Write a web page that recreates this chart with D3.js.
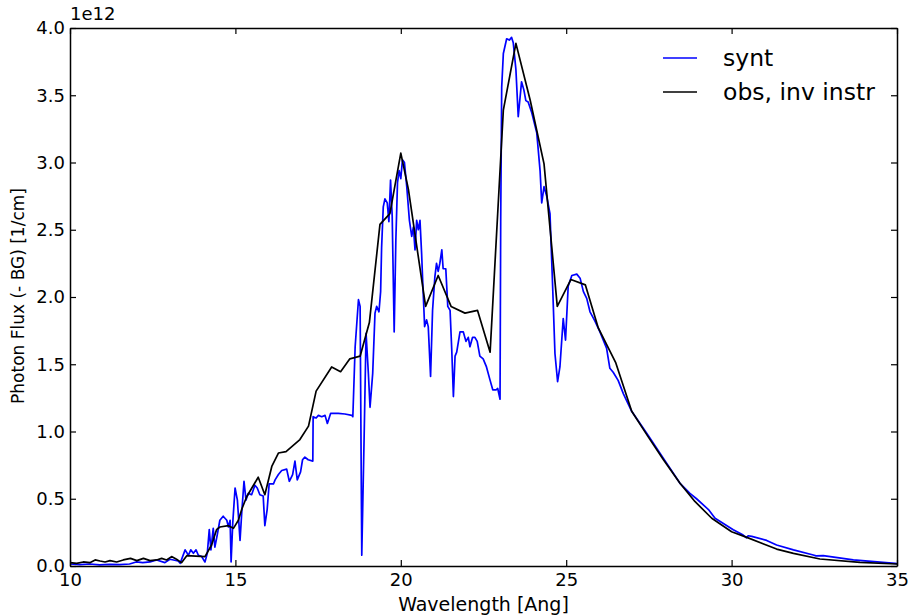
<!DOCTYPE html>
<html>
<head>
<meta charset="utf-8">
<script src="https://cdn.jsdelivr.net/npm/d3@7"></script>
<style>
  body { margin: 0; background: #fff; }
  svg text { font-family: "DejaVu Sans", sans-serif; fill: #000; }
</style>
</head>
<body>
<script>
// flux values are in units of 1e12
var synWave = [10.0, 10.3, 10.6, 10.9, 11.2, 11.5, 11.8, 12.0, 12.2, 12.42, 12.62, 12.87, 13.02, 13.27, 13.33,
  13.48, 13.58, 13.65, 13.73, 13.81, 13.88, 13.98, 14.08, 14.15, 14.21, 14.26, 14.33, 14.38, 14.45, 14.53,
  14.63, 14.74, 14.79, 14.84, 14.87, 14.92, 14.99, 15.06, 15.14, 15.19, 15.26, 15.32, 15.39, 15.49, 15.59,
  15.66, 15.74, 15.84, 15.89, 15.96, 16.02, 16.15, 16.2, 16.30, 16.40, 16.55, 16.63, 16.73, 16.80, 16.87,
  16.97, 17.03, 17.10, 17.20, 17.34, 17.35, 17.44, 17.51, 17.61, 17.71, 17.78, 17.88, 18.11, 18.31, 18.52,
  18.55, 18.62, 18.72, 18.77, 18.82, 18.89, 18.95, 19.02, 19.07, 19.15, 19.22, 19.27, 19.34, 19.39, 19.42,
  19.47, 19.52, 19.59, 19.64, 19.69, 19.74, 19.80, 19.85, 19.90, 19.95, 20.0, 20.05, 20.11, 20.18, 20.26,
  20.33, 20.38, 20.43, 20.48, 20.53, 20.58, 20.63, 20.66, 20.72, 20.78, 20.83, 20.90, 20.96, 21.03, 21.08,
  21.13, 21.18, 21.24, 21.28, 21.36, 21.42, 21.49, 21.54, 21.59, 21.64, 21.69, 21.79, 21.89, 21.97, 22.04,
  22.09, 22.17, 22.24, 22.31, 22.39, 22.49, 22.59, 22.70, 22.78, 22.88, 22.93, 23.0, 23.02, 23.05, 23.10,
  23.20, 23.28, 23.35, 23.40, 23.48, 23.55, 23.65, 23.72, 23.78, 23.85, 23.96, 24.11, 24.21, 24.26, 24.33,
  24.41, 24.51, 24.59, 24.66, 24.74, 24.81, 24.91, 24.98, 25.06, 25.17, 25.32, 25.42, 25.52, 25.62, 25.72,
  25.87, 26.02, 26.22, 26.32, 26.42, 26.57, 26.73, 26.98, 27.48, 27.94, 28.44, 28.74, 28.94, 29.30, 29.50,
  30.05, 30.35, 30.45, 30.5, 30.61, 31.06, 31.36, 31.87, 32.47, 32.55, 32.77, 33.68, 34.94, 35.0];
var synFlux = [0.015, 0.01, 0.015, 0.008, 0.012, 0.01, 0.015, 0.03, 0.025, 0.03, 0.045, 0.025, 0.05, 0.037, 0.02,
  0.12, 0.08, 0.12, 0.094, 0.12, 0.08, 0.07, 0.03, 0.094, 0.27, 0.12, 0.28, 0.14, 0.23, 0.34,
  0.37, 0.34, 0.29, 0.34, 0.03, 0.32, 0.58, 0.49, 0.19, 0.39, 0.63, 0.49, 0.54, 0.53, 0.60,
  0.58, 0.53, 0.52, 0.30, 0.42, 0.61, 0.61, 0.64, 0.68, 0.71, 0.72, 0.63, 0.68, 0.78, 0.64,
  0.70, 0.79, 0.81, 0.79, 0.78, 1.11, 1.10, 1.12, 1.11, 1.12, 1.06, 1.135, 1.135, 1.13, 1.12,
  1.11, 1.63, 1.98, 1.93, 0.08, 0.94, 1.73, 1.43, 1.18, 1.43, 1.88, 1.93, 1.89, 2.04, 2.37,
  2.67, 2.73, 2.70, 2.56, 2.87, 2.60, 1.74, 2.42, 2.85, 2.94, 2.88, 3.02, 3.0, 2.82, 2.57,
  2.45, 2.52, 2.35, 2.57, 2.50, 2.57, 2.32, 2.13, 1.78, 1.83, 1.78, 1.41, 1.90, 2.15, 2.25,
  2.19, 2.25, 2.35, 2.21, 2.21, 1.93, 1.90, 1.61, 1.26, 1.56, 1.59, 1.74, 1.74, 1.67, 1.70,
  1.63, 1.70, 1.70, 1.67, 1.56, 1.54, 1.48, 1.38, 1.31, 1.31, 1.32, 1.24, 2.57, 3.56, 3.81,
  3.92, 3.91, 3.93, 3.89, 3.69, 3.34, 3.60, 3.54, 3.46, 3.45, 3.37, 3.22, 2.94, 2.70, 2.82,
  2.75, 2.62, 2.08, 1.58, 1.37, 1.48, 1.84, 1.68, 2.08, 2.16, 2.17, 2.14, 2.04, 1.99, 1.89,
  1.82, 1.74, 1.62, 1.47, 1.44, 1.38, 1.28, 1.15, 0.97, 0.80, 0.615, 0.54, 0.50, 0.42, 0.355,
  0.27, 0.23, 0.21, 0.225, 0.22, 0.19, 0.156, 0.12, 0.082, 0.075, 0.077, 0.045, 0.02, 0.018];

var obsWave = [10.0, 10.2, 10.4, 10.6, 10.76, 10.91, 11.06, 11.21, 11.41, 11.61, 11.83, 12.02, 12.22, 12.42,
  12.62, 12.77, 12.92, 13.07, 13.22, 13.37, 13.53, 14.08, 14.28, 14.43, 14.53, 14.79, 14.94, 15.09, 15.19,
  15.34, 15.69, 15.89, 16.10, 16.30, 16.53, 16.95, 17.21, 17.44, 17.91, 18.18, 18.46, 18.77, 19.05, 19.37,
  19.67, 20.0, 20.23, 20.75, 21.13, 21.52, 21.94, 22.32, 22.70, 23.10, 23.48, 23.91, 24.33, 24.73, 25.14,
  25.58, 25.97, 26.5, 26.98, 27.48, 27.94, 28.44, 28.89, 29.40, 30.0, 30.46, 31.36, 31.87, 32.67, 33.88, 35.0];
var obsFlux = [0.025, 0.02, 0.03, 0.025, 0.045, 0.037, 0.03, 0.04, 0.03, 0.045, 0.057, 0.04, 0.057, 0.04,
  0.045, 0.057, 0.045, 0.07, 0.05, 0.025, 0.077, 0.07, 0.156, 0.27, 0.29, 0.30, 0.28, 0.34, 0.42,
  0.515, 0.66, 0.53, 0.74, 0.84, 0.85, 0.94, 1.04, 1.30, 1.48, 1.445, 1.54, 1.56, 1.81, 2.54,
  2.62, 3.07, 2.80, 1.93, 2.16, 1.93, 1.88, 1.90, 1.59, 3.39, 3.886, 3.465, 2.99, 1.93, 2.13,
  2.09, 1.77, 1.51, 1.15, 0.96, 0.79, 0.615, 0.48, 0.355, 0.255, 0.213, 0.126, 0.094, 0.052, 0.027, 0.015];

var xTicks = [10, 15, 20, 25, 30, 35];
var yTicks = [0, 0.5, 1.0, 1.5, 2.0, 2.5, 3.0, 3.5, 4.0];
var seriesNames = ["synt", "obs, inv instr"];
var seriesColors = ["#0000ff", "#000000"];

var margin = {top: 28, right: 13, bottom: 49, left: 70};
var totalWidth = 910, totalHeight = 615;
var width = totalWidth - margin.left - margin.right;
var height = totalHeight - margin.top - margin.bottom;

var svg = d3.select("body").append("svg")
  .attr("width", totalWidth)
  .attr("height", totalHeight)
  .append("g")
  .attr("transform", "translate(" + margin.left + "," + margin.top + ")");

var xScale = d3.scaleLinear().domain([10, 35]).range([0, width]);
var yScale = d3.scaleLinear().domain([0, 4]).range([height, 0]);

var synData = synWave.map(function(w, i) { return [w, synFlux[i]]; });
var obsData = obsWave.map(function(w, i) { return [w, obsFlux[i]]; });

var valueline = d3.line()
  .x(function(d) { return xScale(d[0]); })
  .y(function(d) { return yScale(d[1]); });

svg.append("defs").append("clipPath").attr("id", "clip")
  .append("rect").attr("width", width).attr("height", height);

var lines = svg.append("g").attr("clip-path", "url(#clip)");
[synData, obsData].forEach(function(data, i) {
  lines.append("path")
    .datum(data)
    .attr("fill", "none")
    .attr("stroke", seriesColors[i])
    .attr("stroke-width", 1.7)
    .attr("stroke-linejoin", "round")
    .attr("d", valueline);
});

// axes, matplotlib style: ticks inside on all four sides
var fmt = d3.format(".1f");
var xAxis = d3.axisBottom(xScale).tickValues(xTicks).tickSizeInner(-6).tickSizeOuter(0).tickPadding(7);
var yAxis = d3.axisLeft(yScale).tickValues(yTicks).tickFormat(fmt).tickSizeInner(-6).tickSizeOuter(0).tickPadding(5);
var xTop = d3.axisTop(xScale).tickValues(xTicks).tickSizeInner(-6).tickSizeOuter(0).tickFormat("");
var yRight = d3.axisRight(yScale).tickValues(yTicks).tickSizeInner(-6).tickSizeOuter(0).tickFormat("");

svg.append("g").attr("class", "axis").attr("transform", "translate(0," + height + ")").call(xAxis);
svg.append("g").attr("class", "axis").call(yAxis);
svg.append("g").attr("class", "axis").call(xTop);
svg.append("g").attr("class", "axis").attr("transform", "translate(" + width + ",0)").call(yRight);

svg.selectAll(".axis text").style("font-family", "DejaVu Sans").style("font-size", "18px");
svg.selectAll(".axis path").attr("stroke", "#000").attr("stroke-width", 1.5);
svg.selectAll(".axis line").attr("stroke", "#000").attr("stroke-width", 1.2);

svg.append("text")
  .attr("x", 0).attr("y", -8)
  .style("font-size", "18px")
  .text("1e12");

svg.append("text")
  .attr("x", width / 2).attr("y", height + 45)
  .attr("text-anchor", "middle")
  .style("font-size", "19px")
  .text("Wavelength [Ang]");

svg.append("text")
  .attr("transform", "translate(-46," + (height / 2 - 1) + ") rotate(-90)")
  .attr("text-anchor", "middle")
  .style("font-size", "17px")
  .text("Photon Flux (- BG) [1/cm]");

// legend, no frame
var legend = svg.append("g").attr("transform", "translate(593,30)");
seriesNames.forEach(function(name, i) {
  var g = legend.append("g").attr("transform", "translate(0," + (i * 34) + ")");
  g.append("line").attr("x1", 0).attr("x2", 34).attr("y1", 0).attr("y2", 0)
    .attr("stroke", seriesColors[i]).attr("stroke-width", 1.6);
  g.append("text").attr("x", 60).attr("y", 8).style("font-size", "23.5px").text(name);
});
</script>
</body>
</html>
